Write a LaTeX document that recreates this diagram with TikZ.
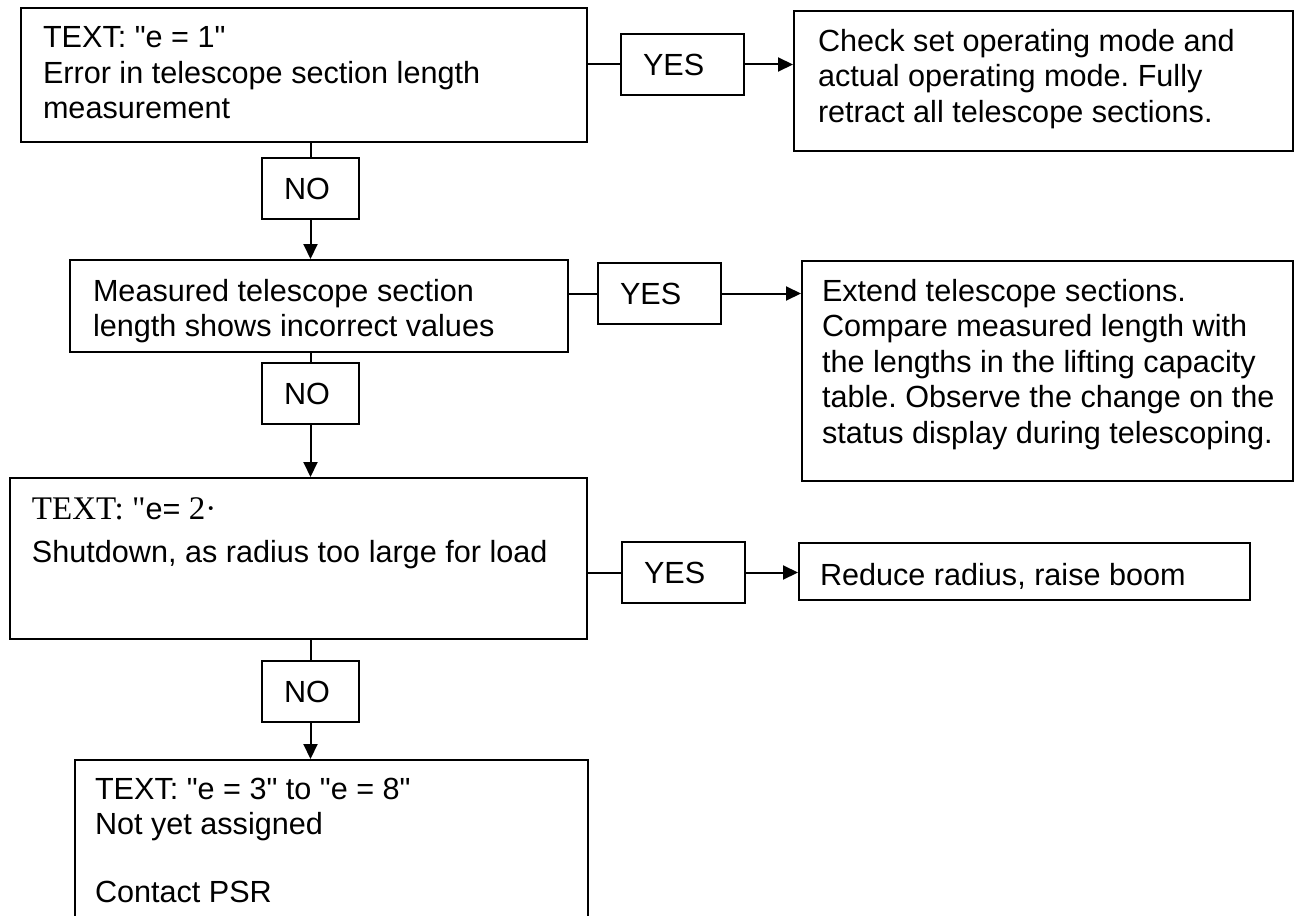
\documentclass[tikz,border=0pt]{standalone}
\usepackage{fontspec}
\newfontfamily\arialfont{Liberation Sans}
\newfontfamily\timesfont{Liberation Serif}
\usetikzlibrary{arrows.meta, positioning}
\newcommand\capstrut{\rule{0pt}{12pt}}
\frenchspacing

\begin{document}
\begin{tikzpicture}[
      x=0.5pt, y=-0.5pt,
      line width=1pt,
      font=\arialfont\fontsize{15.3pt}{17.75pt}\selectfont,
      box/.style={draw, anchor=north west, inner sep=0pt},
      boxtext/.style={anchor=north west, align=left, inner sep=0pt},
      answer/.style={draw, anchor=north west, minimum height=30.5pt, inner xsep=11pt, inner ysep=0pt, align=left},
      yesbox/.style={answer, text width=39.5pt},
      nobox/.style={answer, text width=26.5pt},
      flow/.style={-{Triangle[length=7.5pt, width=7pt]}}
   ]
      \useasboundingbox (0,0) rectangle (1294,915);

      % Boxes
      \node[box, minimum width=283pt, minimum height=67pt] (lenerr) at (20,7) {};
      \node[box, minimum width=249.5pt, minimum height=70pt] (check) at (793,10) {};
      \node[box, minimum width=249pt, minimum height=46pt] (measured) at (69,259) {};
      \node[box, minimum width=245.5pt, minimum height=110pt] (extend) at (801,260) {};
      \node[box, minimum width=288.5pt, minimum height=80.5pt] (shutdown) at (9,477) {};
      \node[box, minimum width=225.5pt, minimum height=28.5pt] (reduce) at (798,542) {};
      \node[box, minimum width=256.5pt, minimum height=100pt] (unassigned) at (74,759) {};

      % Texts in the boxes
      \node[boxtext] (lenerr-txt) at (42,23) {\capstrut TEXT: "e = 1"\\Error in telescope section length\\measurement};
      \node[boxtext] (check-txt) at (817,26) {\capstrut Check set operating mode and\\actual operating mode. Fully\\retract all telescope sections.};
      \node[boxtext] (measured-txt) at (92,276) {\capstrut Measured telescope section\\length shows incorrect values};
      \node[boxtext] (extend-txt) at (821,276) {\capstrut Extend telescope sections.\\Compare measured length with\\the lengths in the lifting capacity\\table. Observe the change on the\\status display during telescoping.};
      \node[boxtext, font=\arialfont\fontsize{15.3pt}{21.5pt}\selectfont] (shutdown-txt) at (31,494) {\capstrut{\timesfont\fontsize{16.5pt}{21.5pt}\selectfont TEXT: "}e= {\timesfont\fontsize{16.5pt}{21.5pt}\selectfont 2·}\\Shutdown, as radius too large for load};
      \node[boxtext] (reduce-txt) at (819,560) {\capstrut Reduce radius, raise boom};
      \node[boxtext] (unassigned-txt) at (94,774) {\capstrut TEXT: "e = 3" to "e = 8"\\Not yet assigned\\[16pt]Contact PSR};

      % Answers
      \node[yesbox] (yes1) at (620,33) {YES};
      \node[yesbox] (yes2) at (597,262) {YES};
      \node[yesbox] (yes3) at (621,541) {YES};
      \node[nobox] (no1) at (261,157) {NO};
      \node[nobox] (no2) at (261,362) {NO};
      \node[nobox] (no3) at (261,660) {NO};

      % NO branch
      \draw (lenerr.south -| no1) -- (no1.north);
      \draw[flow] (no1.south) -- (no1.south |- measured.north);
      \draw (measured.south -| no2) -- (no2.north);
      \draw[flow] (no2.south) -- (no2.south |- shutdown.north);
      \draw (shutdown.south -| no3) -- (no3.north);
      \draw[flow] (no3.south) -- (no3.south |- unassigned.north);

      % YES branch
      \draw (yes1.west -| lenerr.east) -- (yes1.west);
      \draw[flow] (yes1.east) -- (yes1.east -| check.west);
      \draw (yes2.west -| measured.east) -- (yes2.west);
      \draw[flow] (yes2.east) -- (yes2.east -| extend.west);
      \draw (yes3.west -| shutdown.east) -- (yes3.west);
      \draw[flow] (yes3.east) -- (yes3.east -| reduce.west);
\end{tikzpicture}
\end{document}
